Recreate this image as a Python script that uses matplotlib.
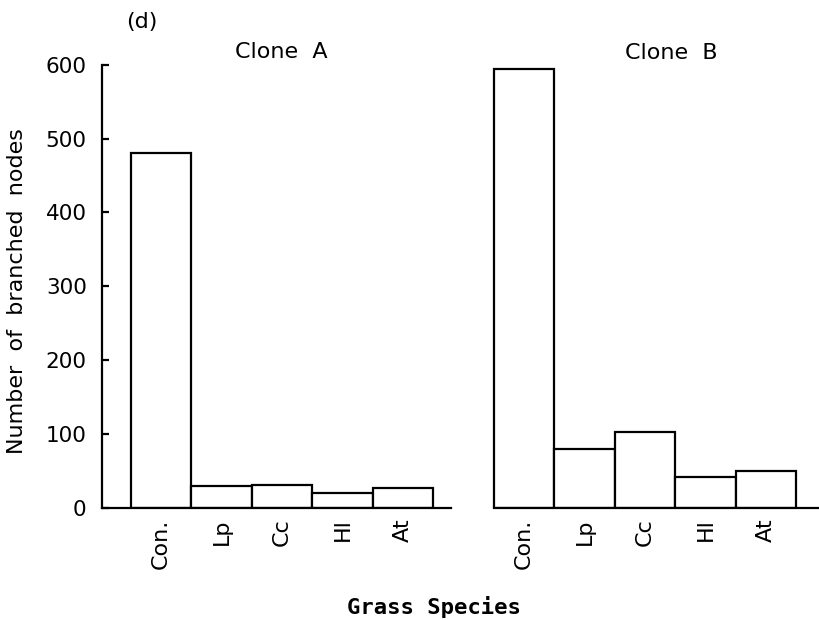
import numpy as np
import matplotlib.pyplot as plt

# Data
species = ["Con.", "Lp", "Cc", "Hl", "At"]
clone_a = [480, 29, 30, 19, 26]
clone_b = [594, 79, 102, 42, 50]
group_labels = ["Clone  A", "Clone  B"]
y_ticks = [0, 100, 200, 300, 400, 500, 600]

plt.rcParams["font.family"] = "DejaVu Sans"

fig = plt.figure(figsize=(8.2, 6.2), dpi=100)
ax = fig.add_axes([102 / 820, 1 - 507.5 / 620, 1 - 102 / 820, (507.5 - 64.8) / 620])

n = len(species)
pos_a = np.arange(n)
pos_b = np.arange(n) + n + 1

ax.bar(pos_a, clone_a, width=1.0, color="white", edgecolor="black", linewidth=1.6)
ax.bar(pos_b, clone_b, width=1.0, color="white", edgecolor="black", linewidth=1.6)

xlim = (-0.975, 10.89)
ax.set_xlim(*xlim)
ax.set_ylim(0, 600)

# broken baseline under the two groups
ax.plot([xlim[0], pos_a[-1] + 0.8], [0, 0], color="black", lw=1.6, clip_on=False)
ax.plot([pos_b[0] - 0.5, xlim[1]], [0, 0], color="black", lw=1.6, clip_on=False)

for s in ["top", "right", "bottom"]:
    ax.spines[s].set_visible(False)
ax.spines["left"].set_linewidth(1.6)

ax.set_yticks(y_ticks)
ax.tick_params(axis="y", direction="in", length=5, width=1.6, pad=11, labelsize=15.5)
ax.set_xticks(np.concatenate([pos_a, pos_b]))
ax.set_xticklabels(species * 2, rotation=90, fontsize=16)
ax.tick_params(axis="x", length=0, pad=8)

fig.text(17 / 820, 1 - 291 / 620, "Number  of  branched  nodes", rotation=90,
         ha="center", va="center", fontsize=16)
fig.text(434 / 820, 1 - 607 / 620, "Grass Species", ha="center", va="center",
         fontsize=16, family="DejaVu Sans Mono", weight="bold")
fig.text(142 / 820, 1 - 22 / 620, "(d)", ha="center", va="center", fontsize=16)
fig.text(281 / 820, 1 - 52 / 620, group_labels[0], ha="center", va="center",
         fontsize=16)
fig.text(671 / 820, 1 - 53 / 620, group_labels[1], ha="center", va="center",
         fontsize=16)

fig.savefig("out.png", dpi=100)
